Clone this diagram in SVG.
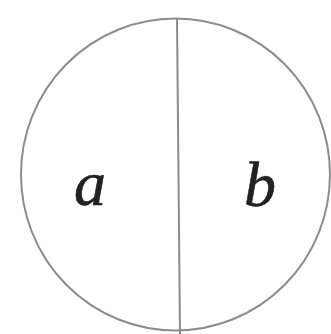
<svg xmlns="http://www.w3.org/2000/svg" width="331" height="334" viewBox="0 0 331 334">
<style>
.shape{fill:none;stroke:#8c8c8c;stroke-width:2}
.lbl{font-family:"Liberation Serif","DejaVu Serif",serif;font-style:italic;font-size:64px;fill:#222222;stroke:#222222;stroke-width:0.6;text-anchor:middle}
</style>
<rect width="331" height="334" fill="#ffffff"/>
<g id="circle"><ellipse class="shape" cx="175.5" cy="174.5" rx="154.5" ry="156"/></g>
<g id="connectors"><line class="shape" x1="177" y1="18" x2="180" y2="334"/></g>
<g id="label-a"><text class="lbl" x="90" y="205">a</text></g>
<g id="label-b"><text class="lbl" x="260" y="206">b</text></g>
</svg>
